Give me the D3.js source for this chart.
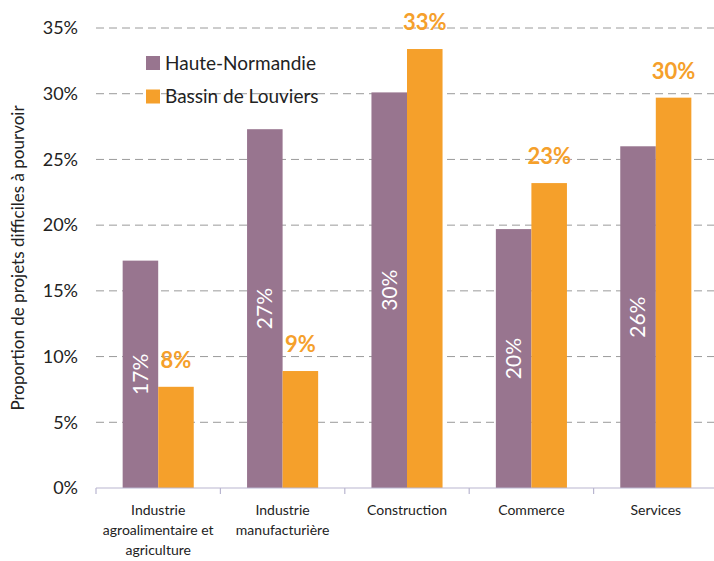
<!DOCTYPE html>
<html>
<head>
<meta charset="utf-8">
<script src="https://cdn.jsdelivr.net/npm/d3@7"></script>
<style>
  body { margin: 0; background: #fff; }
  svg { font-family: Lato, "Open Sans", sans-serif; }
</style>
</head>
<body>
<div id="chart"></div>
<script>
const categories = [
  ['Industrie', 'agroalimentaire et', 'agriculture'],
  ['Industrie', 'manufacturière'],
  ['Construction'],
  ['Commerce'],
  ['Services']
];
const seriesNames = ['Haute-Normandie', 'Bassin de Louviers'];
const hauteNormandie = [17.3, 27.3, 30.1, 19.7, 26.0];
const bassinLouviers = [7.7, 8.9, 33.4, 23.2, 29.7];
const yTicks = [0, 5, 10, 15, 20, 25, 30, 35];

const width = 714, height = 561,
    margin = {left: 96, top: 28, right: -4, bottom: 73},
    innerW = width - margin.left - margin.right,
    innerH = height - margin.top - margin.bottom;
const colors = ['#98758f', '#f5a02b'];

let svg = d3.select('#chart').append('svg')
    .attr('width', width)
    .attr('height', height);

let g = svg.append('g')
    .attr('transform', `translate(${margin.left}, ${margin.top})`);

let x = d3.scaleBand()
    .domain(d3.range(categories.length))
    .range([0, innerW]);

let xInner = d3.scaleBand()
    .domain([0, 1])
    .range([0, x.bandwidth()])
    .paddingInner(0)
    .paddingOuter(0.75);

let y = d3.scaleLinear()
    .domain([0, 35])
    .range([innerH, 0]);

// grid lines
g.append('g')
    .selectAll('line')
    .data(yTicks.filter(d => d > 0))
    .join('line')
    .attr('x1', 0)
    .attr('x2', innerW)
    .attr('y1', d => y(d))
    .attr('y2', d => y(d))
    .attr('stroke', '#9a9a9a')
    .attr('stroke-width', 1)
    .attr('stroke-dasharray', '8,5');

// y tick labels
g.append('g')
    .selectAll('text')
    .data(yTicks)
    .join('text')
    .attr('x', -18)
    .attr('y', d => y(d))
    .attr('dy', '0.35em')
    .attr('text-anchor', 'end')
    .attr('font-size', '18px')
    .attr('fill', '#222')
    .text(d => d + '%');

// bars
let data = categories.map((c, i) => ({i, vals: [hauteNormandie[i], bassinLouviers[i]]}));

let groups = g.append('g')
    .selectAll('g')
    .data(data)
    .join('g')
    .attr('transform', d => `translate(${x(d.i)}, 0)`);

groups.selectAll('rect')
    .data(d => d.vals.map((v, s) => ({v, s})))
    .join('rect')
    .attr('x', d => xInner(d.s))
    .attr('width', xInner.bandwidth())
    .attr('y', d => y(d.v))
    .attr('height', d => innerH - y(d.v))
    .attr('fill', d => colors[d.s]);

// white rotated labels inside purple bars
groups.append('text')
    .attr('transform', d => `translate(${xInner(0) + xInner.bandwidth() / 2}, ${(y(d.vals[0]) + innerH) / 2}) rotate(-90)`)
    .attr('text-anchor', 'middle')
    .attr('dy', '0.35em')
    .attr('font-size', '21px')
    .attr('fill', '#fff')
    .text(d => Math.round(d.vals[0]) + '%');

// orange labels above orange bars
groups.append('text')
    .attr('x', xInner(1) + xInner.bandwidth() / 2)
    .attr('y', d => y(d.vals[1]) - 19)
    .attr('text-anchor', 'middle')
    .attr('font-size', '22px')
    .attr('font-weight', 'bold')
    .attr('fill', colors[1])
    .text(d => Math.round(d.vals[1]) + '%');

// x axis
g.append('line')
    .attr('x1', 0)
    .attr('x2', innerW)
    .attr('y1', innerH)
    .attr('y2', innerH)
    .attr('stroke', '#b9b6d0')
    .attr('stroke-width', 1.2);

g.append('g')
    .selectAll('line')
    .data(d3.range(categories.length + 1))
    .join('line')
    .attr('x1', d => d * x.step())
    .attr('x2', d => d * x.step())
    .attr('y1', innerH)
    .attr('y2', innerH + 6)
    .attr('stroke', '#b9b6d0')
    .attr('stroke-width', 1.2);

g.append('g')
    .selectAll('text')
    .data(categories.map((c, i) => ({c, i})))
    .join('text')
    .attr('x', d => x(d.i) + x.bandwidth() / 2)
    .attr('y', innerH + 27)
    .attr('text-anchor', 'middle')
    .attr('font-size', '14px')
    .attr('fill', '#222')
    .selectAll('tspan')
    .data(d => d.c)
    .join('tspan')
    .attr('x', function () { return d3.select(this.parentNode).attr('x'); })
    .attr('dy', (d, k) => k === 0 ? 0 : 20)
    .text(d => d);

// y axis title
svg.append('text')
    .attr('transform', `translate(24, ${margin.top + innerH / 2}) rotate(-90)`)
    .attr('text-anchor', 'middle')
    .attr('font-size', '17px')
    .attr('fill', '#222')
    .text('Proportion de projets difficiles à pourvoir');

// legend
let legend = svg.append('g')
    .attr('transform', 'translate(146, 56)');

let li = legend.selectAll('g')
    .data(seriesNames)
    .join('g')
    .attr('transform', (d, i) => `translate(0, ${i * 33.5})`);

li.append('rect')
    .attr('width', 14)
    .attr('height', 14)
    .attr('fill', (d, i) => colors[i]);

li.append('text')
    .attr('x', 19)
    .attr('y', 7)
    .attr('dy', '0.36em')
    .attr('font-size', '19px')
    .attr('fill', '#222')
    .text(d => d);
</script>
</body>
</html>
